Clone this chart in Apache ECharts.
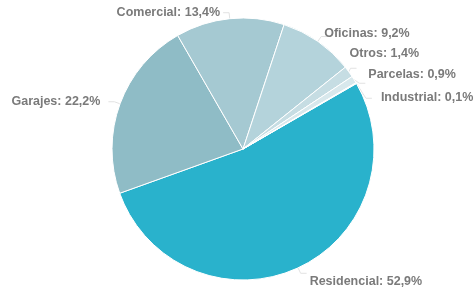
<!DOCTYPE html>
<html>
<head>
<meta charset="utf-8">
<script src="https://cdn.jsdelivr.net/npm/echarts@6/dist/echarts.min.js"></script>
<style>
  html, body { margin: 0; padding: 0; background: #fff; }
  #chart { width: 475px; height: 291px; }
</style>
</head>
<body>
<div id="chart"></div>
<script>
const categories = ['Residencial', 'Garajes', 'Comercial', 'Oficinas', 'Otros', 'Parcelas', 'Industrial']
const shares = [52.9, 22.2, 13.4, 9.2, 1.4, 0.9, 0.1]
const colors = ['#29b2cc', '#8fbcc6', '#a5c9d2', '#b4d3db', '#c6dde3', '#d8e8ec', '#e8f1f3']

// small nudges so the labels sit where the original put them
const labelShift = [[-2, 8], [-3, 0], [2, 0], [-8, -3], [-12, -15], [-2, -9], [4, -1]]

const chart = echarts.init(document.getElementById('chart'))

chart.setOption({
  animation: false,
  series: [
    {
      type: 'pie',
      center: [243, 149],
      radius: 131,
      startAngle: 30,
      clockwise: true,
      avoidLabelOverlap: true,
      itemStyle: {
        borderColor: '#fff',
        borderWidth: 1
      },
      label: {
        color: '#7a7a7a',
        fontFamily: 'Arial, Liberation Sans, sans-serif',
        fontWeight: 'bold',
        fontSize: 12.5,
        overflow: 'none',
        formatter: p => p.name + ': ' + String(p.value).replace('.', ',') + '%'
      },
      labelLine: {
        length: 6,
        length2: 6,
        lineStyle: { color: '#e2e2e2', width: 1 }
      },
      labelLayout: p => ({ dx: labelShift[p.dataIndex][0], dy: labelShift[p.dataIndex][1] }),
      data: categories.map((name, i) => ({
        name,
        value: shares[i],
        itemStyle: { color: colors[i] }
      }))
    }
  ]
})
</script>
</body>
</html>
